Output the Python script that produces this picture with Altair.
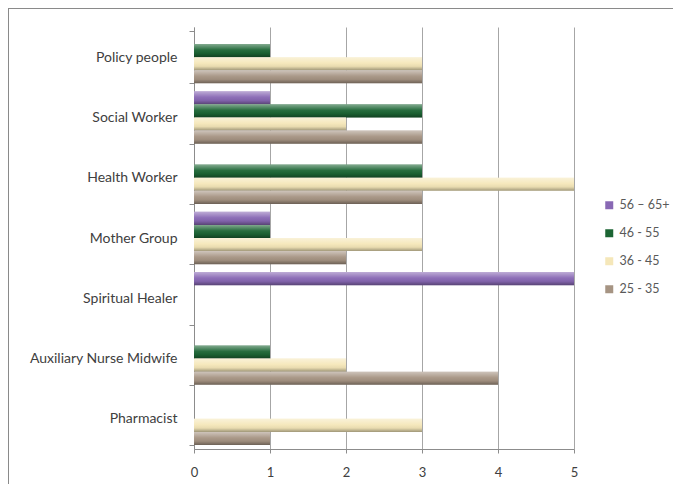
import altair as alt
import pandas as pd

categories = ["Policy people", "Social Worker", "Health Worker", "Mother Group",
              "Spiritual Healer", "Auxiliary Nurse Midwife", "Pharmacist"]
series = ["56 \u2013 65+", "46 - 55", "36 - 45", "25 - 35"]
s56 = [0, 1, 0, 1, 5, 0, 0]
s46 = [1, 3, 3, 1, 0, 1, 0]
s36 = [3, 2, 5, 3, 0, 2, 3]
s25 = [3, 3, 3, 2, 0, 4, 1]
colors = ["#8868b4", "#1c6534", "#f5e7b9", "#a69483"]

rows = []
for name, vals in zip(series, [s56, s46, s36, s25]):
    for c, v in zip(categories, vals):
        rows.append({"category": c, "series": name, "value": v})
df = pd.DataFrame(rows)

font = "Lato"

y = alt.Y("category:N", sort=categories,
          scale=alt.Scale(paddingInner=0.13, paddingOuter=0.065),
          axis=alt.Axis(title=None, labelFontSize=14, labelColor="#404040", labelFont=font,
                        tickBand="extent", tickSize=5, tickColor="#8c8c8c",
                        domainColor="#8c8c8c", labelPadding=12, labelLimit=300))
x = alt.X("value:Q", scale=alt.Scale(domain=[0, 5], nice=False),
          axis=alt.Axis(title=None, values=[0, 1, 2, 3, 4, 5], format="d", grid=True,
                        gridColor="#a6a6a6", tickSize=4, tickColor="#8c8c8c",
                        domainColor="#8c8c8c", labelFontSize=13, labelColor="#404040",
                        labelFont=font, labelPadding=13, labelFlush=False))
yoff = alt.YOffset("series:N", sort=series, scale=alt.Scale(paddingInner=0, paddingOuter=0))

bars = alt.Chart(df).mark_bar().encode(
    y=y, x=x, yOffset=yoff,
    color=alt.Color("series:N", sort=series,
                    scale=alt.Scale(domain=series, range=colors),
                    legend=alt.Legend(title=None, orient="none", legendX=409, legendY=172,
                                      symbolType="square", symbolSize=64,
                                      symbolStrokeWidth=0, labelFontSize=12.5,
                                      labelColor="#595959", labelFont=font,
                                      rowPadding=15, labelOffset=4)),
)

shade = alt.Chart(df).mark_bar(
    fill=alt.LinearGradient(
        gradient="linear", x1=0, x2=0, y1=0, y2=1,
        stops=[alt.GradientStop(color="rgba(255,255,255,0.45)", offset=0),
               alt.GradientStop(color="rgba(255,255,255,0.05)", offset=0.45),
               alt.GradientStop(color="rgba(0,0,0,0.05)", offset=0.7),
               alt.GradientStop(color="rgba(0,0,0,0.35)", offset=1)])
).encode(y=y, x=x, yOffset=yoff)

frame_top = alt.Chart(alt.Data(values=[{}])).mark_rule(color="#8a8a8a", strokeWidth=2).encode(
    x=alt.value(-186), x2=alt.value(490), y=alt.value(-19))
frame_left = alt.Chart(alt.Data(values=[{}])).mark_rule(color="#8a8a8a", strokeWidth=2).encode(
    x=alt.value(-186), y=alt.value(-19), y2=alt.value(460))

chart = alt.layer(bars, shade, frame_top, frame_left).properties(
    width=380, height=422,
    autosize=alt.AutoSizeParams(type="none"),
    padding={"left": 186, "top": 19, "right": 99, "bottom": 35},
).configure_view(stroke=None)

chart.save("out.html", embed_options={"renderer": "svg", "actions": False})
